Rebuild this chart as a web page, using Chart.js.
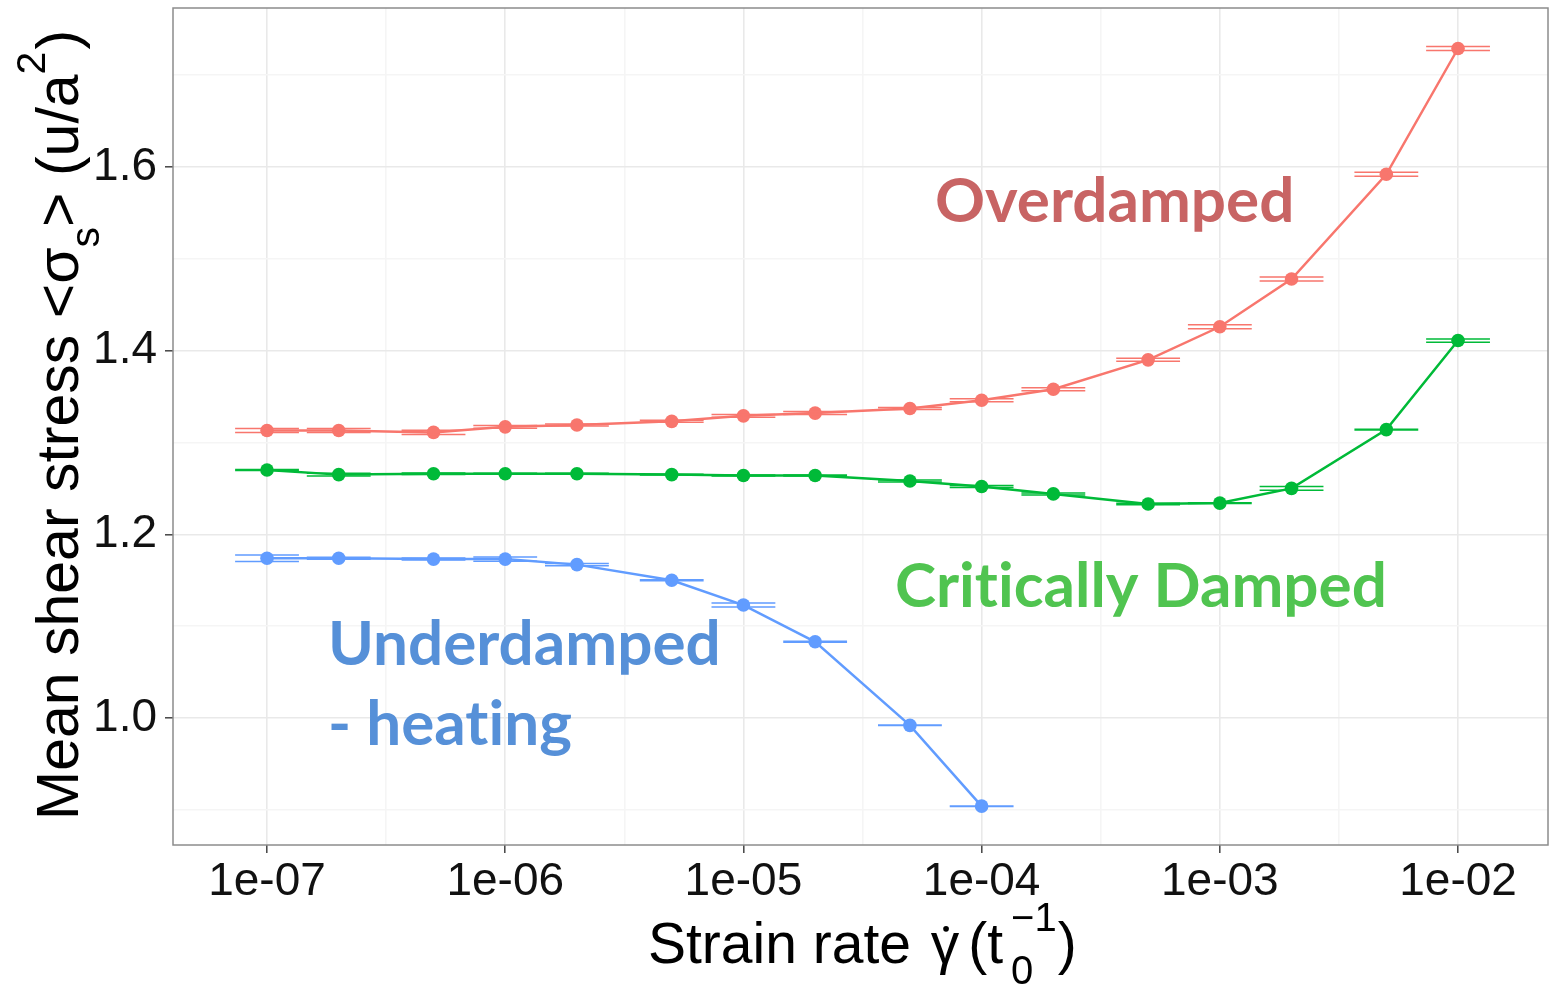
<!DOCTYPE html>
<html>
<head>
<meta charset="utf-8">
<title>Mean shear stress vs strain rate</title>
<script src="https://cdn.jsdelivr.net/npm/chart.js@4.4.1/dist/chart.umd.min.js"></script>
<style>
  html, body { margin: 0; padding: 0; background: #fff; }
  #wrap { width: 1549px; height: 986px; }
</style>
</head>
<body>
<div id="wrap"><canvas id="stressChart" width="1549" height="986"></canvas></div>
<script>
// strain rates (t0^-1) shared by all three damping regimes
const strainRates = [1e-7, 2e-7, 5e-7, 1e-6, 2e-6, 5e-6, 1e-5, 2e-5, 5e-5, 1e-4, 2e-4, 5e-4, 1e-3, 2e-3, 5e-3, 1e-2];

const overdamped = [1.313, 1.313, 1.311, 1.317, 1.319, 1.323, 1.329, 1.332, 1.337, 1.346, 1.358, 1.390, 1.426, 1.478, 1.592, 1.729];
const overdampedErr = [0.0022, 0.0022, 0.0022, 0.0016, 0.0011, 0.0011, 0.0016, 0.0016, 0.0011, 0.0016, 0.0016, 0.0016, 0.0022, 0.0022, 0.0022, 0.0022];

const criticallyDamped = [1.270, 1.265, 1.266, 1.266, 1.266, 1.265, 1.264, 1.264, 1.258, 1.252, 1.244, 1.233, 1.234, 1.250, 1.314, 1.411];
const criticallyDampedErr = [0.0005, 0.0016, 0.0008, 0.0005, 0.0005, 0.0005, 0.0005, 0.0005, 0.0011, 0.0011, 0.0011, 0.0008, 0.0005, 0.0020, 0.0003, 0.0018];

const underdamped = [1.174, 1.174, 1.173, 1.173, 1.167, 1.150, 1.123, 1.083, 0.992, 0.904];
const underdampedErr = [0.0035, 0.0011, 0.0011, 0.0022, 0.0011, 0.0005, 0.0022, 0.0005, 0.0003, 0.0003];

const xTickValues = [1e-7, 1e-6, 1e-5, 1e-4, 1e-3, 1e-2];
const xTickLabels = ['1e-07', '1e-06', '1e-05', '1e-04', '1e-03', '1e-02'];
const xMinorTicks = [3.1623e-7, 3.1623e-6, 3.1623e-5, 3.1623e-4, 3.1623e-3];

const yTickValues = [1.0, 1.2, 1.4, 1.6];
const yTickLabels = ['1.0', '1.2', '1.4', '1.6'];
const yMinorTicks = [0.9, 1.1, 1.3, 1.5, 1.7];

// half width of the error bar whiskers, in decades of strain rate
const whiskerHalfDecades = 0.134;

const COLORS = { over: '#F8766D', crit: '#00BA38', under: '#619CFF' };
const AXIS_FONT = '"Liberation Sans", Arial, sans-serif';

const toPoints = (ys) => ys.map((y, i) => ({ x: strainRates[i], y }));
const errorsByLabel = {
  'Critically Damped': criticallyDampedErr,
  'Overdamped': overdampedErr,
  'Underdamped': underdampedErr
};

const isMajorX = v => xTickValues.some(t => Math.abs(Math.log10(t) - Math.log10(v)) < 1e-6);
const isMajorY = v => yTickValues.some(t => Math.abs(t - v) < 1e-6);

function series(label, ys, color) {
  return {
    label,
    data: toPoints(ys),
    borderColor: color,
    backgroundColor: color,
    borderWidth: 2.5,
    pointRadius: 6.8,
    pointBorderWidth: 0,
    pointHoverRadius: 6.8,
    tension: 0
  };
}

// horizontal whiskers at y +/- err, like geom_errorbar with a wide width
const errorBars = {
  id: 'errorBars',
  afterDatasetsDraw(chart) {
    const { ctx } = chart;
    const xs = chart.scales.x, ys = chart.scales.y;
    const spread = Math.pow(10, whiskerHalfDecades);
    chart.data.datasets.forEach(ds => {
      const errs = errorsByLabel[ds.label];
      ctx.save();
      ctx.strokeStyle = ds.borderColor;
      ctx.lineWidth = 1.5;
      ds.data.forEach((p, j) => {
        const e = errs[j];
        const xl = xs.getPixelForValue(p.x / spread);
        const xr = xs.getPixelForValue(p.x * spread);
        const xc = xs.getPixelForValue(p.x);
        const yt = ys.getPixelForValue(p.y + e);
        const yb = ys.getPixelForValue(p.y - e);
        ctx.beginPath();
        ctx.moveTo(xl, yt); ctx.lineTo(xr, yt);
        ctx.moveTo(xl, yb); ctx.lineTo(xr, yb);
        ctx.moveTo(xc, yt); ctx.lineTo(xc, yb);
        ctx.stroke();
      });
      ctx.restore();
    });
  }
};

// panel border around the plotting area
const panelFrame = {
  id: 'panelFrame',
  afterDraw(chart) {
    const { ctx, chartArea: a } = chart;
    ctx.save();
    ctx.strokeStyle = '#8c8c8c';
    ctx.lineWidth = 1.5;
    ctx.strokeRect(a.left, a.top, a.right - a.left, a.bottom - a.top);
    ctx.restore();
  }
};

// regime labels, anchored in data coordinates (left edge, baseline)
const regimeLabels = [
  { text: 'Overdamped', x: 6.375e-5, y: 1.5401, color: '#C86464' },
  { text: 'Critically Damped', x: 4.33e-5, y: 1.1209, color: '#50C450' },
  { text: 'Underdamped', x: 1.804e-7, y: 1.0577, color: '#5690D8' },
  { text: '- heating', x: 1.804e-7, y: 0.9706, color: '#5690D8' }
];

const annotations = {
  id: 'annotations',
  afterDraw(chart) {
    const { ctx } = chart;
    const xs = chart.scales.x, ys = chart.scales.y;
    ctx.save();
    ctx.font = 'bold 62px Lato, "Open Sans", sans-serif';
    ctx.textRendering = 'optimizeSpeed';
    ctx.textBaseline = 'alphabetic';
    ctx.textAlign = 'left';
    regimeLabels.forEach(l => {
      ctx.fillStyle = l.color;
      ctx.fillText(l.text, xs.getPixelForValue(l.x), ys.getPixelForValue(l.y));
    });
    ctx.restore();
  }
};

// draws a run of text pieces along a baseline; a piece may carry sub/sup
function drawRuns(ctx, runs, size) {
  let x = 0;
  const small = Math.round(size * 0.7);
  runs.forEach(r => {
    x += r.gap || 0;
    if (r.text !== undefined) {
      ctx.font = `${size}px ${AXIS_FONT}`;
      ctx.fillText(r.text, x, 0);
      const w = ctx.measureText(r.text).width;
      if (r.dot) {
        ctx.beginPath();
        ctx.arc(x + w / 2 + 1, -size * 0.6, size * 0.05, 0, Math.PI * 2);
        ctx.fill();
      }
      x += w;
    } else {
      ctx.font = `${small}px ${AXIS_FONT}`;
      let w = 0;
      if (r.sub) {
        ctx.fillText(r.sub, x, size * 0.36);
        w = Math.max(w, ctx.measureText(r.sub).width);
      }
      if (r.sup) {
        ctx.fillText(r.sup, x, -size * 0.56);
        w = Math.max(w, ctx.measureText(r.sup).width);
      }
      x += w;
    }
  });
}

const axisTitles = {
  id: 'axisTitles',
  afterDraw(chart) {
    const { ctx } = chart;
    ctx.save();
    ctx.fillStyle = '#000';
    ctx.textBaseline = 'alphabetic';
    ctx.textAlign = 'left';

    ctx.save();
    ctx.translate(648, 963);
    drawRuns(ctx, [
      { text: 'Strain rate ' },
      { text: 'γ', dot: true, gap: 4 },
      { text: '(t', gap: 9 },
      { sub: '0', sup: '−1', gap: 8 },
      { text: ')', gap: 1 }
    ], 57);
    ctx.restore();

    ctx.save();
    ctx.translate(78, 820);
    ctx.rotate(-Math.PI / 2);
    drawRuns(ctx, [
      { text: 'Mean shear stress <σ' },
      { sub: 's' },
      { text: '> (u/a' },
      { sup: '2' },
      { text: ')', gap: 2 }
    ], 59);
    ctx.restore();

    ctx.restore();
  }
};

const majorGrid = '#e9e9e9';
const minorGrid = '#f5f5f5';

new Chart(document.getElementById('stressChart'), {
  type: 'line',
  data: {
    datasets: [
      series('Critically Damped', criticallyDamped, COLORS.crit),
      series('Overdamped', overdamped, COLORS.over),
      series('Underdamped', underdamped, COLORS.under)
    ]
  },
  options: {
    responsive: false,
    animation: false,
    layout: { autoPadding: false, padding: { top: 8, right: 1, left: 0, bottom: 0 } },
    plugins: { legend: { display: false }, tooltip: { enabled: false } },
    scales: {
      x: {
        type: 'logarithmic',
        min: 4.03e-8,
        max: 0.02386,
        afterBuildTicks: s => { s.ticks = [...xTickValues, ...xMinorTicks].sort((a, b) => a - b).map(v => ({ value: v })); },
        afterFit: s => { s.height = 141; s.paddingLeft = 0; s.paddingRight = 0; },
        border: { display: false },
        grid: {
          color: c => (c.tick && isMajorX(c.tick.value)) ? majorGrid : minorGrid,
          lineWidth: 1.6,
          tickLength: 8,
          tickWidth: 1.5,
          tickColor: c => (c.tick && isMajorX(c.tick.value)) ? '#444' : 'rgba(0,0,0,0)'
        },
        ticks: {
          autoSkip: false,
          maxRotation: 0,
          minRotation: 0,
          padding: 2,
          color: '#111',
          font: { family: AXIS_FONT, size: 46 },
          callback: v => {
            const i = xTickValues.findIndex(t => Math.abs(Math.log10(t) - Math.log10(v)) < 1e-6);
            return i >= 0 ? xTickLabels[i] : '';
          }
        }
      },
      y: {
        type: 'linear',
        min: 0.8617,
        max: 1.7731,
        afterBuildTicks: s => { s.ticks = [...yTickValues, ...yMinorTicks].sort((a, b) => a - b).map(v => ({ value: v })); },
        afterFit: s => { s.width = 173; s.paddingTop = 0; s.paddingBottom = 0; },
        border: { display: false },
        grid: {
          color: c => (c.tick && isMajorY(c.tick.value)) ? majorGrid : minorGrid,
          lineWidth: 1.6,
          tickLength: 8,
          tickWidth: 1.5,
          tickColor: c => (c.tick && isMajorY(c.tick.value)) ? '#444' : 'rgba(0,0,0,0)'
        },
        ticks: {
          autoSkip: false,
          padding: 8,
          color: '#111',
          font: { family: AXIS_FONT, size: 46 },
          callback: v => {
            const i = yTickValues.findIndex(t => Math.abs(t - v) < 1e-6);
            return i >= 0 ? yTickLabels[i] : '';
          }
        }
      }
    }
  },
  plugins: [errorBars, panelFrame, annotations, axisTitles]
});
</script>
</body>
</html>
